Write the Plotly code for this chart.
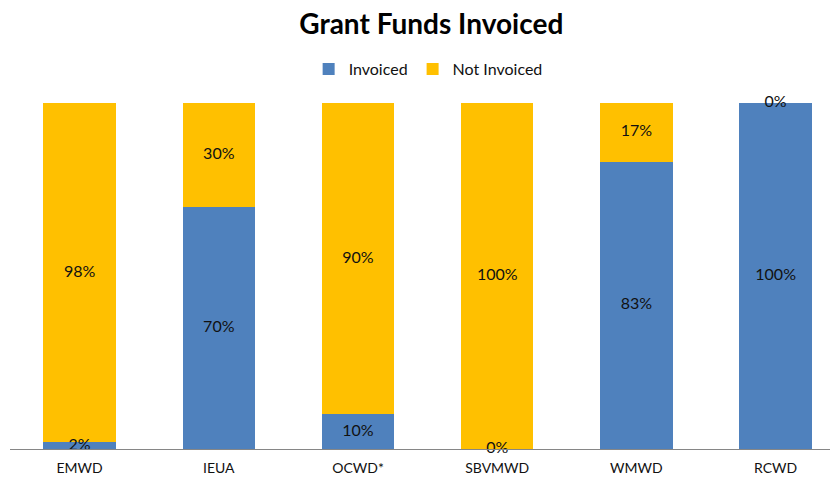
import plotly.graph_objects as go

agencies = ["EMWD", "IEUA", "OCWD*", "SBVMWD", "WMWD", "RCWD"]
invoiced = [2, 70, 10, 0, 83, 100]
not_invoiced = [98, 30, 90, 100, 17, 0]

BLUE = "#4F81BD"
GOLD = "#FFC000"
FONT = "Lato, 'Open Sans', sans-serif"

fig = go.Figure()
fig.add_trace(go.Bar(
    x=agencies, y=[v / 100 for v in invoiced],
    name="Invoiced", marker=dict(color=BLUE, line=dict(width=0)),
    width=0.52, hoverinfo="skip",
))
fig.add_trace(go.Bar(
    x=agencies, y=[v / 100 for v in not_invoiced],
    name="Not Invoiced", marker=dict(color=GOLD, line=dict(width=0)),
    width=0.52, hoverinfo="skip",
))

# segment labels at the middle of each stacked piece
lab_x, lab_y, lab_t = [], [], []
for a, i, n in zip(agencies, invoiced, not_invoiced):
    lab_x += [a, a]
    lab_y += [i / 200, (i + n / 2) / 100]
    lab_t += [f"{i}%", f"{n}%"]

fig.add_trace(go.Scatter(
    x=lab_x, y=lab_y, text=lab_t, mode="text",
    textfont=dict(family=FONT, size=16, color="#111"),
    showlegend=False, hoverinfo="skip", cliponaxis=False,
))

# page body has an 8px margin, so the figure is offset by 8px down/right
fig.update_layout(
    barmode="stack",
    width=830, height=471,
    paper_bgcolor="white", plot_bgcolor="white",
    title=dict(text="<b>Grant Funds Invoiced</b>", x=0.51, xanchor="center",
               y=0.965, yanchor="middle",
               font=dict(family=FONT, size=28, color="#000")),
    legend=dict(orientation="h", x=0.505, xanchor="center", y=1.098, yanchor="middle",
                font=dict(family=FONT, size=16, color="#111"),
                traceorder="normal", itemwidth=30),
    margin=dict(l=2, r=0, t=95, b=30),
    xaxis=dict(range=[-0.5, 5.448], showline=True, linecolor="#868686", linewidth=1,
               ticks="", ticklabelstandoff=6,
               tickfont=dict(family=FONT, size=14, color="#111"),
               fixedrange=True),
    yaxis=dict(range=[0, 1], visible=False, showgrid=False, fixedrange=True),
    font=dict(family=FONT),
)

fig.write_html("out.html")
